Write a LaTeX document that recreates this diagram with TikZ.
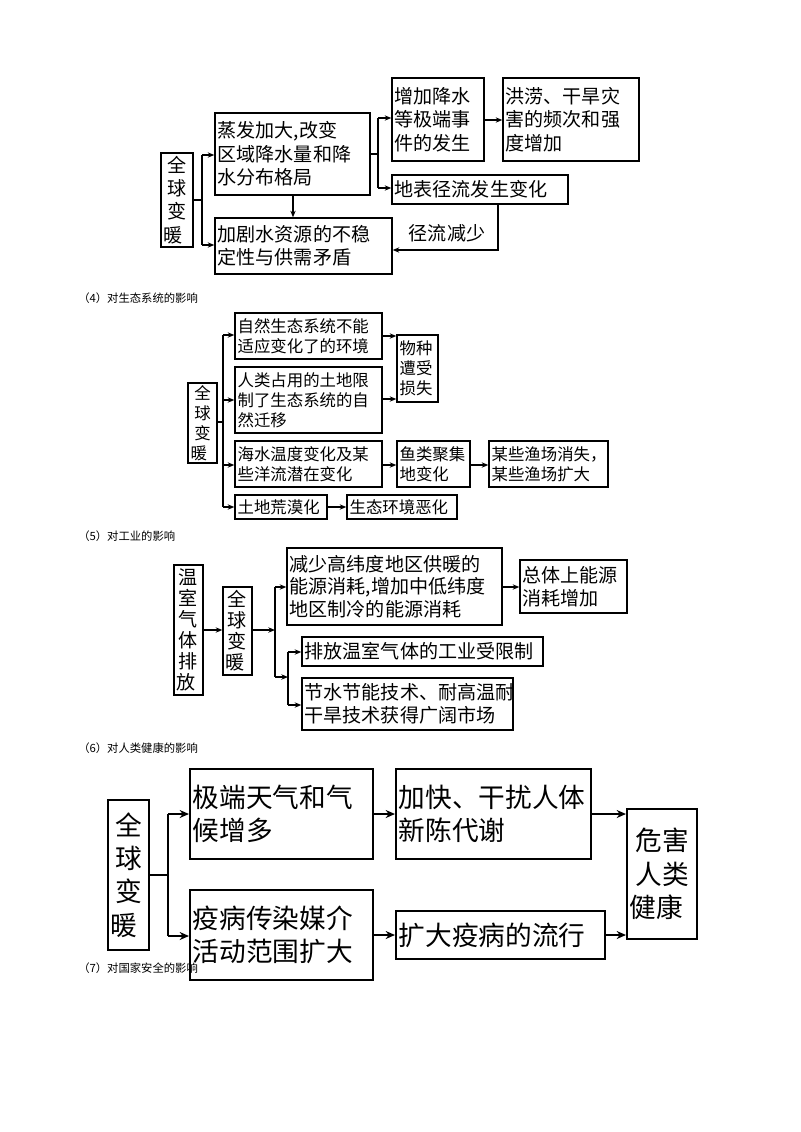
\documentclass[tikz,border=0pt]{standalone}
\usepackage{fontspec}
\usetikzlibrary{arrows.meta}
\setmainfont{Noto Sans CJK SC}
\begin{document}
\begin{tikzpicture}[x=0.75pt,y=-0.75pt,
  box/.style={draw,line width=1pt,inner sep=0pt,align=left},
  thick box/.style={draw,line width=1.8pt,inner sep=0pt,align=left},
  ln/.style={line width=0.9pt},
  arr/.style={line width=0.9pt,-{Stealth[length=5pt,width=4pt]}},
  ln2/.style={line width=1.3pt},
  arr2/.style={line width=1.3pt,-{Stealth[length=7pt,width=6pt]}},
  hd/.style={anchor=west,inner sep=0pt,font=\fontsize{8.5}{10}\selectfont}]
\newcommand\bx[8][box]{%
  \pgfmathsetmacro\bw{(#5-#3)*0.75}\pgfmathsetmacro\bh{(#6-#4)*0.75}\pgfmathsetmacro\tw{(#5-#3)*0.75-4}%
  \node[#1,font=#8,minimum width=\bw pt,minimum height=\bh pt,text width=\tw pt] (#2) at ({(#3+#5)/2},{(#4+#6)/2}) {#7};}
\useasboundingbox[fill=white] (0,0) rectangle (800,1132);
\def\fa{\fontsize{14.3}{17.5}\selectfont}
\def\fb{\fontsize{12.3}{15}\selectfont}
\def\fc{\fontsize{14.3}{17}\selectfont}
\def\fd{\fontsize{20}{25}\selectfont}
\def\fv{\fontsize{14.3}{15.8}\selectfont}
% ---------- section 1
\bx[box]{g1}{161}{153}{193}{247}{\centering 全\\球\\变\\暖}{\fa}
\bx{A}{215}{113}{370}{195}{蒸发加大,改变\\区域降水量和降\\水分布格局}{\fa}
\bx{B}{392}{78}{484}{161}{增加降水\\等极端事\\件的发生}{\fa}
\bx{D}{503}{78}{639}{161}{洪涝、干旱灾\\害的频次和强\\度增加}{\fa}
\bx{C}{392}{175}{568}{204}{地表径流发生变化}{\fa}
\bx{E}{215}{218}{392}{274}{加剧水资源的不稳\\定性与供需矛盾}{\fa}
\coordinate (j1a) at (202,155); \coordinate (j1b) at (202,245); \coordinate (j1m) at (202,200);
\draw[ln] (g1.east|-j1m) -- (j1m); \draw[ln] (j1a) -- (j1b);
\draw[arr] (j1a) -- (A.west|-j1a); \draw[arr] (j1b) -- (E.west|-j1b);
\coordinate (j2a) at (378,118); \coordinate (j2b) at (378,188); \coordinate (j2m) at (378,154);
\draw[ln] (A.east|-j2m) -- (j2m); \draw[ln] (j2a) -- (j2b);
\draw[arr] (j2a) -- (B.west|-j2a); \draw[arr] (j2b) -- (C.west|-j2b);
\coordinate (bd) at (484,120); \draw[arr] (bd) -- (D.west|-bd);
\coordinate (ae) at (293,195); \draw[arr] (ae) -- (ae|-E.north);
\coordinate (ce) at (498,250);
\draw[arr] (ce|-C.south) -- (ce) -- (E.east|-ce);
\node[font=\fa,inner sep=0pt] (lbl1) at (447,233) {径流减少};
% ---------- section 2
\node[hd] (h4) at (78,298) {（4）对生态系统的影响};
\bx{g2}{188}{383}{217}{463}{\centering 全\\球\\变\\暖}{\fb}
\bx{s1}{235}{313}{382}{359}{自然生态系统不能\\适应变化了的环境}{\fb}
\bx{s2}{235}{367}{382}{433}{人类占用的土地限\\制了生态系统的自\\然迁移}{\fb}
\bx{s3}{397}{335}{438}{402}{物种\\遭受\\损失}{\fb}
\bx{s4}{235}{441}{382}{487}{海水温度变化及某\\些洋流潜在变化}{\fb}
\bx{s5}{397}{441}{470}{487}{鱼类聚集\\地变化}{\fb}
\bx{s6}{489}{441}{608}{487}{某些渔场消失，\\某些渔场扩大}{\fb}
\bx{s7}{235}{495}{327}{519}{土地荒漠化}{\fb}
\bx{s8}{347}{495}{457}{519}{生态环境恶化}{\fb}
\coordinate (k1) at (223,335); \coordinate (k2) at (223,400); \coordinate (k3) at (223,465);
\coordinate (k4) at (223,507); \coordinate (km) at (223,422);
\draw[ln] (g2.east|-km) -- (km); \draw[ln] (k1) -- (k4);
\draw[arr] (k1) -- (s1.west|-k1); \draw[arr] (k2) -- (s2.west|-k2);
\draw[arr] (k3) -- (s4.west|-k3); \draw[arr] (k4) -- (s7.west|-k4);
\coordinate (q1) at (382,336); \coordinate (q2) at (382,399);
\draw[arr] (q1) -- (s3.west|-q1); \draw[arr] (q2) -- (s3.west|-q2);
\coordinate (q3) at (382,465); \draw[arr] (q3) -- (s5.west|-q3);
\coordinate (q4) at (470,465); \draw[arr] (q4) -- (s6.west|-q4);
\coordinate (q5) at (327,507); \draw[arr] (q5) -- (s8.west|-q5);
% ---------- section 3
\node[hd] (h5) at (78,536) {（5）对工业的影响};
\bx{w}{174}{565}{203}{695}{\centering 温\\室\\气\\体\\排\\放}{\fv}
\bx{g3}{223}{587}{252}{675}{\centering 全\\球\\变\\暖}{\fv}
\bx{i1}{287}{548}{502}{625}{减少高纬度地区供暖的\\能源消耗,增加中低纬度\\地区制冷的能源消耗}{\fc}
\bx{i2}{520}{560}{627}{613}{总体上能源\\消耗增加}{\fc}
\bx{i3}{302}{637}{543}{666}{排放温室气体的工业受限制}{\fc}
\bx{i4}{302}{678}{513}{730}{节水节能技术、耐高温耐\\干旱技术获得广阔市场}{\fc}
\coordinate (wm) at (203,630); \draw[arr] (wm) -- (g3.west|-wm);
\coordinate (t0) at (275,630); \coordinate (t1) at (275,587); \coordinate (t2) at (275,677);
\draw[arr] (g3.east|-t0) -- (t0); \draw[ln] (t1) -- (t2);
\draw[arr] (t1) -- (i1.west|-t1);
\coordinate (i12) at (502,587); \draw[arr] (i12) -- (i2.west|-i12);
\coordinate (u0) at (288,677); \coordinate (u1) at (288,652); \coordinate (u2) at (288,705);
\draw[arr] (t2) -- (u0); \draw[ln] (u1) -- (u2);
\draw[arr] (u1) -- (i3.west|-u1); \draw[arr] (u2) -- (i4.west|-u2);
% ---------- section 4
\node[hd] (h6) at (78,748) {（6）对人类健康的影响};
\bx[thick box]{g4}{108}{800}{149}{950}{\centering 全\\球\\变\\暖}{\fd}
\bx[box,line width=1.5pt]{m1}{190}{769}{373}{859}{极端天气和气\\候增多}{\fd}
\bx[box,line width=1.5pt]{m2}{396}{769}{591}{859}{加快、干扰人体\\新陈代谢}{\fd}
\bx[box,line width=1.5pt]{m3}{190}{890}{373}{980}{疫病传染媒介\\活动范围扩大}{\fd}
\bx[box,line width=1.5pt]{m4}{396}{911}{605}{959}{扩大疫病的流行}{\fd}
\bx[box,line width=1.5pt]{m5}{627}{809}{697}{939}{\centering 危害\\人类\\健康}{\fd}
\coordinate (n1) at (168,814); \coordinate (n2) at (168,936); \coordinate (nm) at (168,875);
\draw[ln2] (g4.east|-nm) -- (nm); \draw[ln2] (n1) -- (n2);
\draw[arr2] (n1) -- (m1.west|-n1); \draw[arr2] (n2) -- (m3.west|-n2);
\coordinate (p1) at (373,814); \draw[arr2] (p1) -- (m2.west|-p1);
\coordinate (p2) at (373,935); \draw[arr2] (p2) -- (m4.west|-p2);
\coordinate (p3) at (591,814); \draw[arr2] (p3) -- (m5.west|-p3);
\coordinate (p4) at (605,935); \draw[arr2] (p4) -- (m5.west|-p4);
\node[hd] (h7) at (78,968) {（7）对国家安全的影响};
\end{tikzpicture}
\end{document}
